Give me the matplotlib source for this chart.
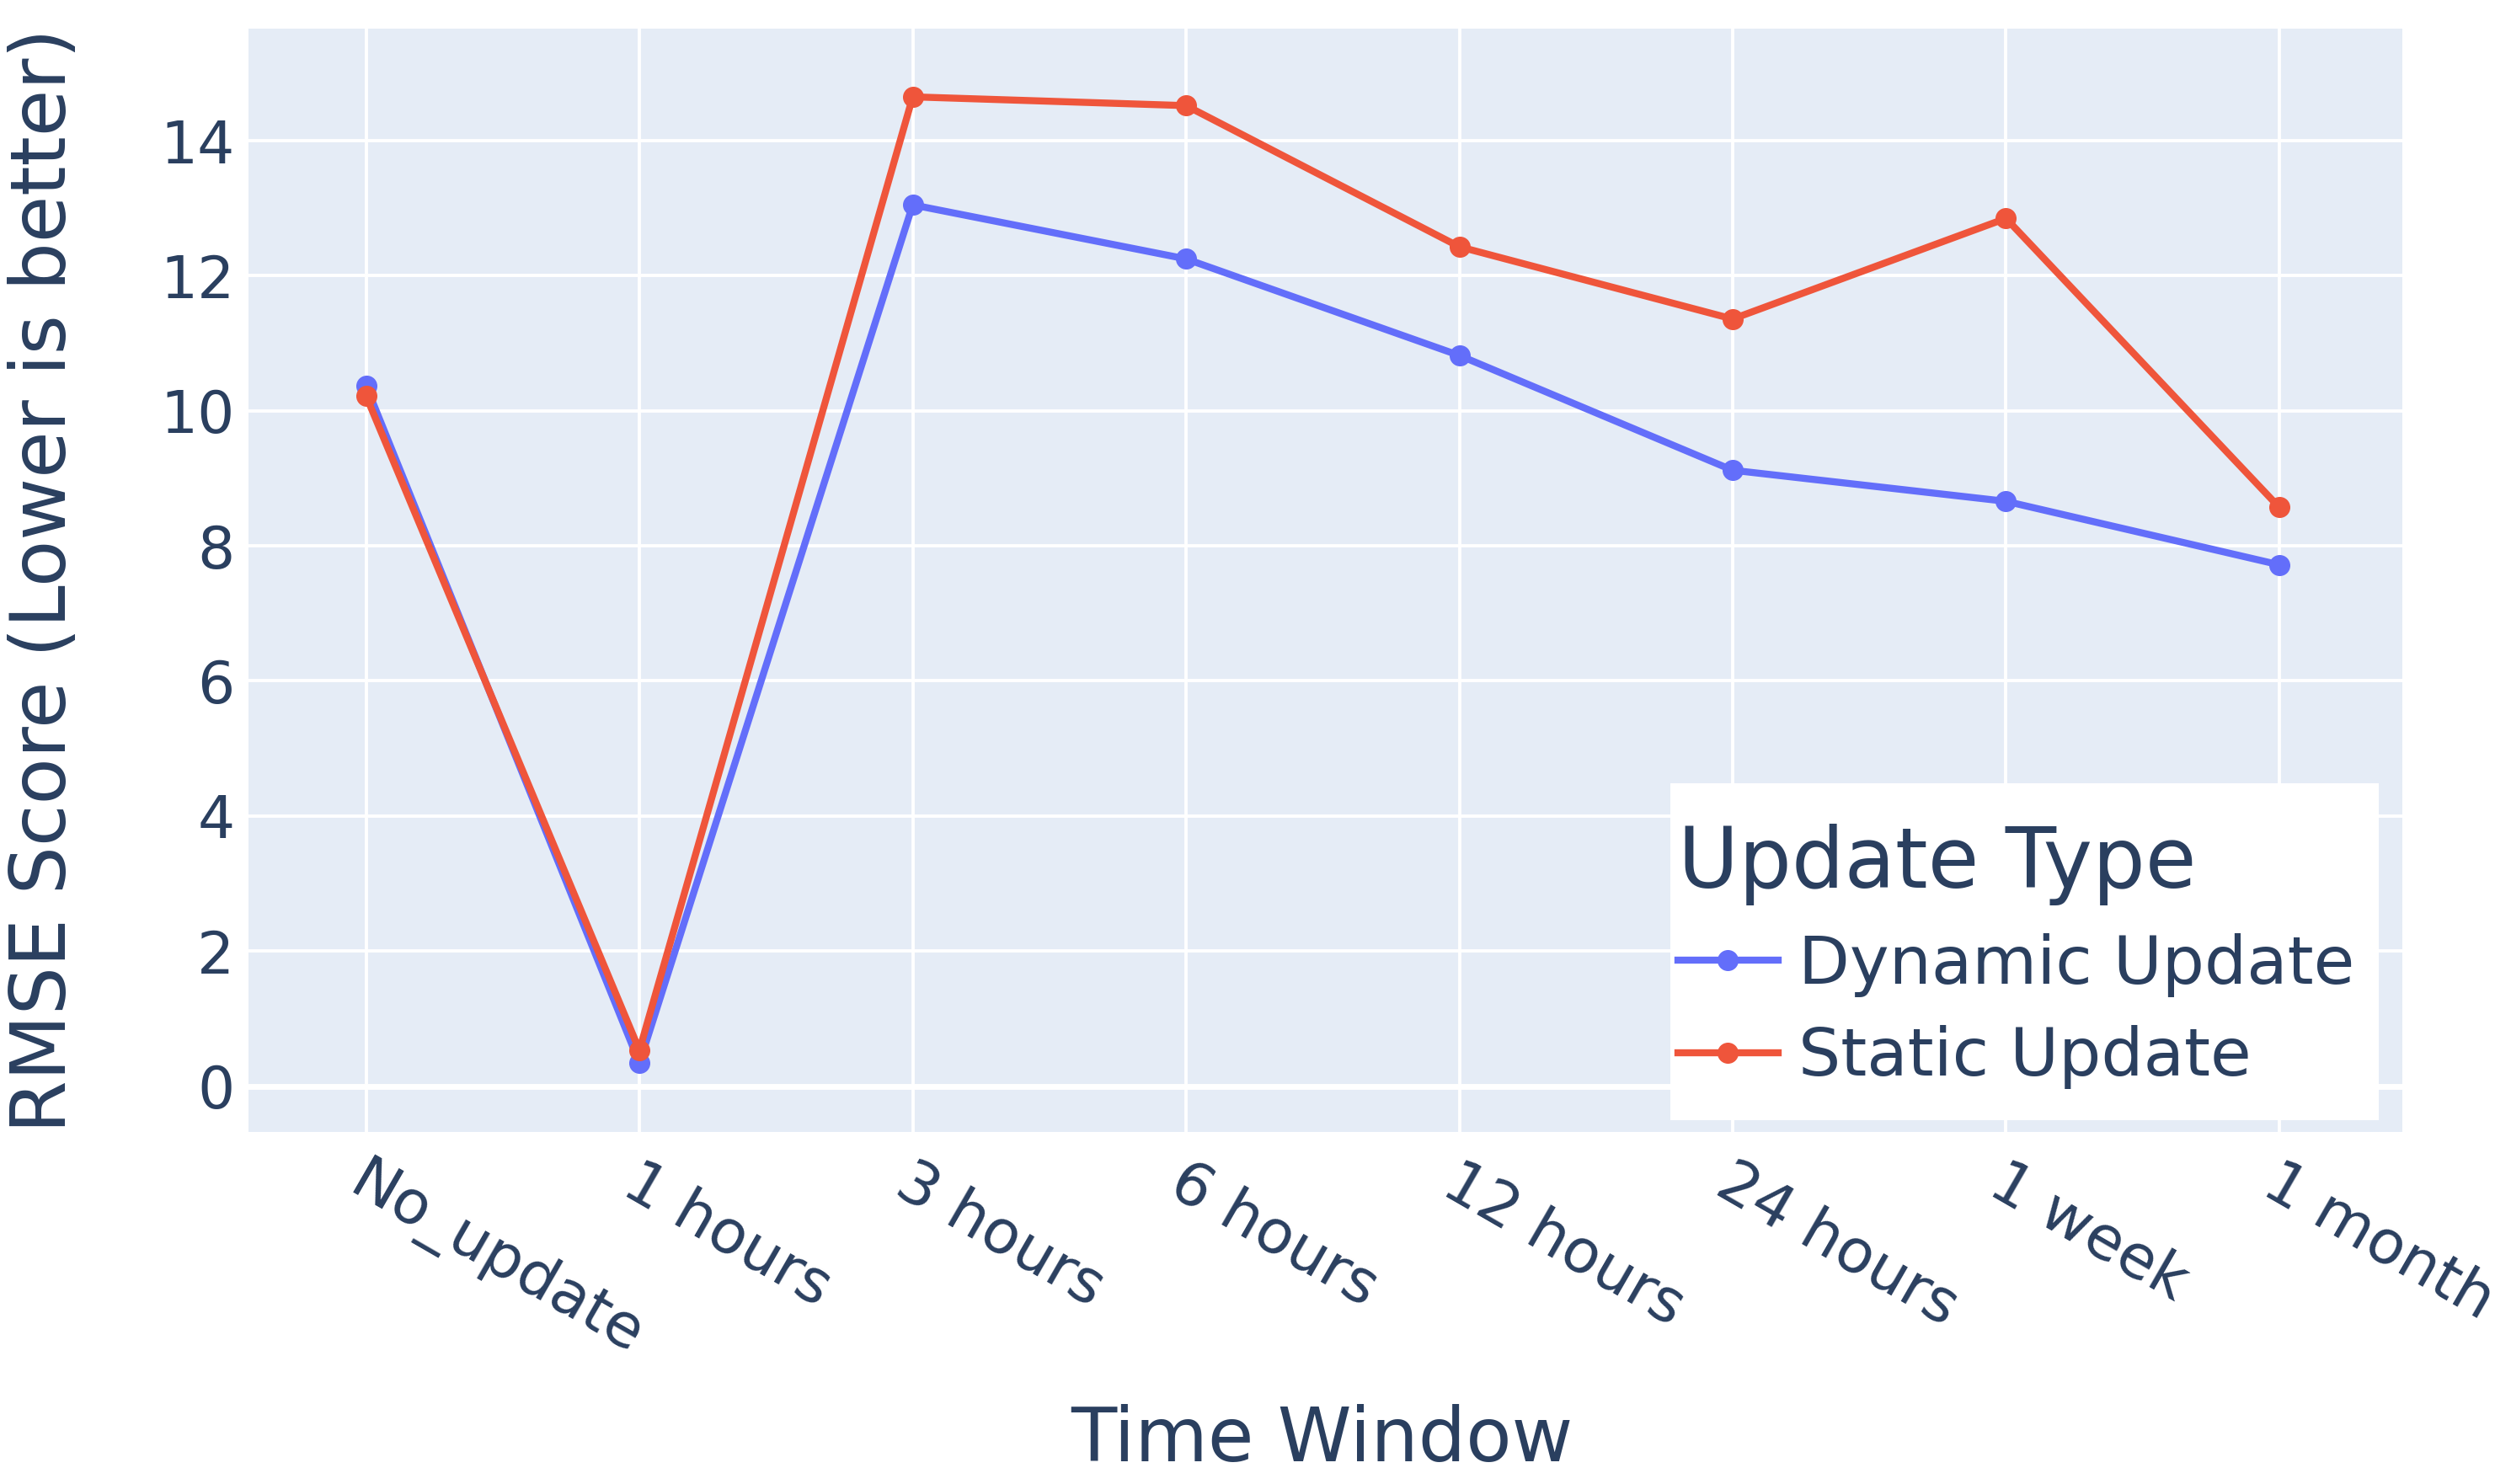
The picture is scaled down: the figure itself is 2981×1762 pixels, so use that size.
import matplotlib.pyplot as plt
import matplotlib.transforms as mtransforms
from matplotlib.patches import Rectangle

windows = ['No_update', '1 hours', '3 hours', '6 hours', '12 hours', '24 hours', '1 week', '1 month']
dynamic_rmse = [10.37, 0.34, 13.05, 12.25, 10.82, 9.12, 8.66, 7.72]
static_rmse = [10.22, 0.53, 14.65, 14.52, 12.43, 11.36, 12.85, 8.57]

text_color = '#2a3f5f'
plt.rcParams['font.family'] = ['DejaVu Sans']

fig = plt.figure(figsize=(29.81, 17.62), dpi=100)
ax = fig.add_axes([0.099, 0.2372, 0.8577, 0.7435])
ax.set_facecolor('#E5ECF6')

x = list(range(len(windows)))
ax.plot(x, dynamic_rmse, color='#636EFA', lw=6, marker='o', ms=17, label='Dynamic Update', zorder=3)
ax.plot(x, static_rmse, color='#EF553B', lw=6, marker='o', ms=17, label='Static Update', zorder=3)

ax.set_xlim(-0.43, 7.45)
ax.set_ylim(-0.68, 15.66)
ax.set_yticks([0, 2, 4, 6, 8, 10, 12, 14])
ax.set_xticks(x)
ax.set_xticklabels(windows)
ax.grid(True, color='white', lw=2.8)
ax.axhline(0, color='white', lw=5, zorder=1)
ax.set_axisbelow(True)
for s in ax.spines.values():
    s.set_visible(False)

ax.tick_params(axis='y', length=0, pad=12, labelsize=50, labelcolor=text_color)
ax.tick_params(axis='x', length=0, pad=40, labelsize=52, labelcolor=text_color)
offset = mtransforms.ScaledTranslation(-10 / 72, 0, fig.dpi_scale_trans)
for lab in ax.get_xticklabels():
    lab.set_rotation(-30)
    lab.set_ha('left')
    lab.set_va('center')
    lab.set_rotation_mode('anchor')
    lab.set_transform(lab.get_transform() + offset)

ax.set_ylabel('RMSE Score (Lower is better)', fontsize=65, color=text_color, va='center')
ax.yaxis.set_label_coords(-0.0946, 0.5)
fig.text(0.5265, 0.029, 'Time Window', fontsize=64, color=text_color, ha='center', va='center')

# white legend background, plotly style
ax.add_patch(Rectangle((0.660, 0.011), 0.329, 0.305, transform=ax.transAxes,
                       facecolor='white', edgecolor='none', zorder=4))
leg = ax.legend(title='Update Type', loc='upper left', bbox_to_anchor=(0.6637, 0.2795),
                fontsize=57, title_fontsize=71, frameon=False,
                handlelength=1.5, handletextpad=0.3, borderpad=0, labelspacing=0.42,
                borderaxespad=0)
leg.set_zorder(5)
leg._legend_box.align = 'left'
leg.get_title().set_color(text_color)
for t in leg.get_texts():
    t.set_color(text_color)

fig.savefig('out.png', dpi=100, facecolor='white')
